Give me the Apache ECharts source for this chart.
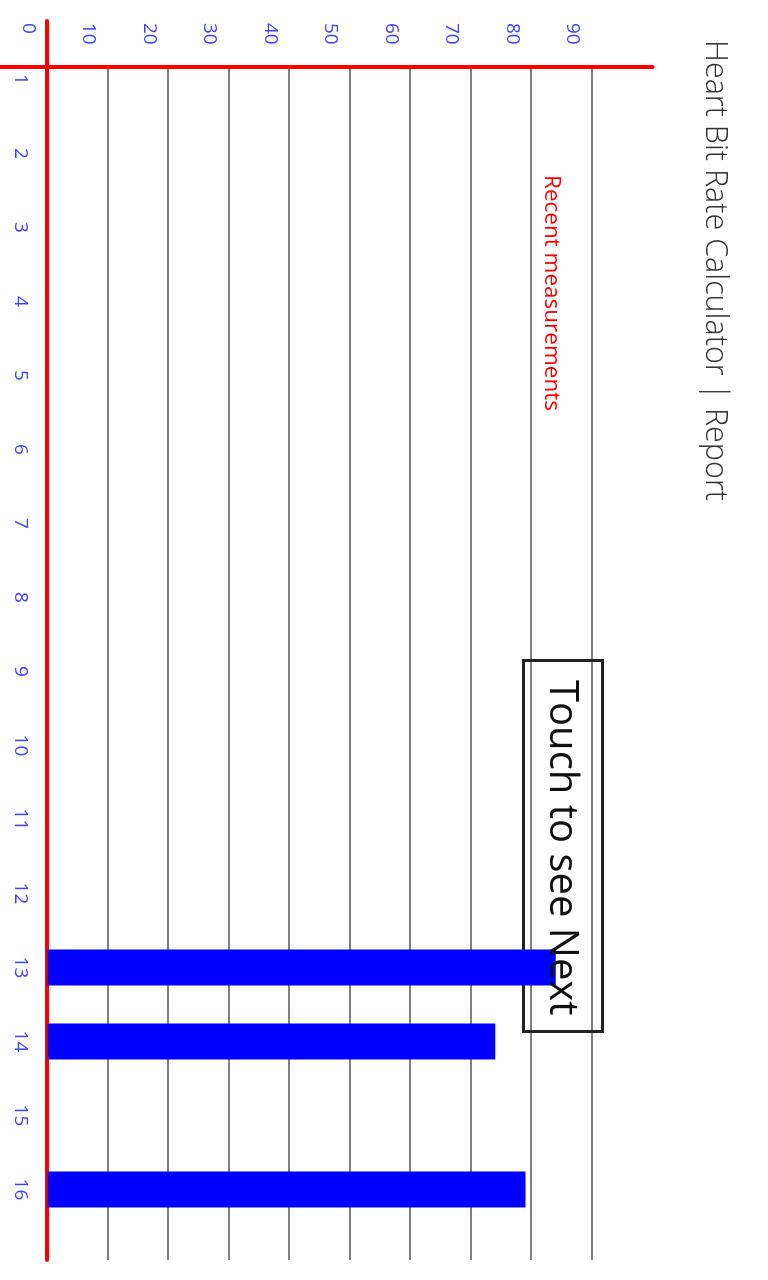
<!DOCTYPE html>
<html>
<head>
<meta charset="utf-8">
<script src="https://cdn.jsdelivr.net/npm/echarts@6/dist/echarts.min.js"></script>
<style>
html, body { margin: 0; padding: 0; width: 768px; height: 1280px; overflow: hidden; background: #fff; }
/* chart is laid out landscape and turned a quarter clockwise */
#chart { position: absolute; left: 0; top: 0; width: 1280px; height: 768px; transform-origin: 0 0; transform: translate(768px, 0) rotate(90deg); }
</style>
</head>
<body>
<div id="chart"></div>
<script>
//measurement slots shown on the axis
var dayTicks = [1, 2, 3, 4, 5, 6, 7, 8, 9, 10, 11, 12, 13, 14, 15, 16];
//heart rate ticks
var rateTicks = [0, 10, 20, 30, 40, 50, 60, 70, 80, 90];
//recent measurements
var measuredDays = [13, 14, 16];
var heartRates = [84, 74, 79];

var chart = echarts.init(document.getElementById('chart'));

var barData = [];
for (var i = 0; i < measuredDays.length; i++) {
    barData.push([measuredDays[i], heartRates[i]]);
}

var labelBlue = '#4040ff';

option = {
    backgroundColor: '#fff',
    animation: false,
    textStyle: { fontFamily: 'Open Sans' },
    title: [
        {
            text: 'Heart Bit Rate Calculator | Report',
            left: 40,
            top: 38,
            padding: 0,
            textStyle: { fontSize: 30.5, fontWeight: 300, color: '#333', fontFamily: 'Open Sans' }
        },
        {
            text: 'Recent measurements',
            left: 175,
            top: 205,
            padding: 0,
            textStyle: { fontSize: 22.5, fontWeight: 'normal', color: '#ff0000', fontFamily: 'Open Sans' }
        }
    ],
    grid: [
        //bars and the measurement axis
        { left: 21, right: 20, top: 115.5, bottom: 47.5, outerBoundsMode: 'none' },
        //rate axis and its grid lines
        { left: 67, right: 20, top: 115.5, bottom: 0, outerBoundsMode: 'none' }
    ],
    xAxis: [
        {
            type: 'value',
            gridIndex: 0,
            min: 0.2095,
            max: 16.953,
            axisLine: { show: true, onZero: false, lineStyle: { color: '#ff0000', width: 4 } },
            axisTick: { show: false },
            splitLine: { show: false },
            axisLabel: { customValues: dayTicks, margin: 18, color: labelBlue, fontSize: 19 }
        },
        { type: 'value', gridIndex: 1, min: 0.831, max: 16.953, show: false }
    ],
    yAxis: [
        { type: 'value', gridIndex: 0, min: 0, max: 100, show: false },
        {
            type: 'value',
            gridIndex: 1,
            min: -7.85,
            max: 100,
            axisLine: { show: true, onZero: false, lineStyle: { color: '#ff0000', width: 4 } },
            axisTick: { show: false, customValues: rateTicks.slice(1) },
            splitLine: { show: true, lineStyle: { color: '#808080', width: 2 } },
            axisLabel: {
                customValues: rateTicks,
                align: 'left',
                margin: 44,
                verticalAlign: 'top',
                padding: [10, 0, 0, 0],
                color: labelBlue,
                fontSize: 19
            }
        }
    ],
    graphic: [
        {
            type: 'rect',
            z: 1,
            shape: { x: 660.5, y: 165.5, width: 371, height: 79 },
            style: { fill: 'none', stroke: '#222', lineWidth: 3 }
        },
        {
            type: 'text',
            z: 100,
            x: 680,
            y: 207,
            style: { text: 'Touch to see Next', fontSize: 40, fontFamily: 'Open Sans', fill: '#111', verticalAlign: 'middle' }
        }
    ],
    series: [
        {
            type: 'bar',
            xAxisIndex: 0,
            yAxisIndex: 0,
            barWidth: 36,
            z: 3,
            itemStyle: { color: '#0000ff' },
            data: barData
        }
    ]
};

chart.setOption(option);
</script>
</body>
</html>
